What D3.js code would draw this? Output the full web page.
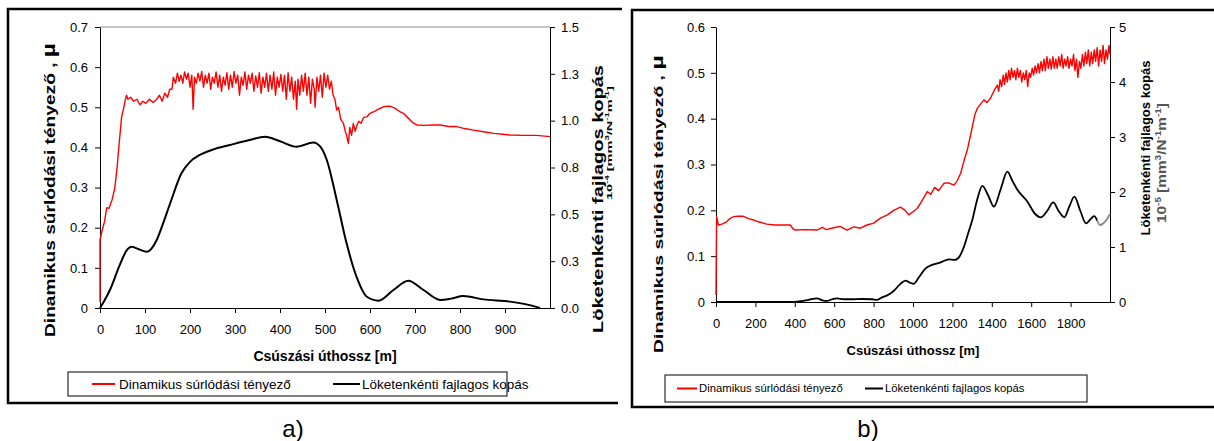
<!DOCTYPE html>
<html>
<head>
<meta charset="utf-8">
<script src="https://cdn.jsdelivr.net/npm/d3@7"></script>
<style>
  body { margin: 0; background: #fff; }
  svg { font-family: Arial, "Liberation Sans", sans-serif; }
  .axis path, .axis line { stroke: #000; }
  .axis text { fill: #000; }
</style>
</head>
<body>
<svg id="chart" width="1214" height="441"></svg>
<script>
// ---- data ----
const xTicksA = [0, 100, 200, 300, 400, 500, 600, 700, 800, 900];
const yLeftTicksA = [0, 0.1, 0.2, 0.3, 0.4, 0.5, 0.6, 0.7];
const yRightTicksA = [0, 0.25, 0.5, 0.75, 1, 1.25, 1.5];

const xTicksB = [0, 200, 400, 600, 800, 1000, 1200, 1400, 1600, 1800];
const yLeftTicksB = [0, 0.1, 0.2, 0.3, 0.4, 0.5, 0.6];
const yRightTicksB = [0, 1, 2, 3, 4, 5];

const seriesNames = ['Dinamikus súrlódási tényező', 'Löketenkénti fajlagos kopás'];
const xTitle = 'Csúszási úthossz [m]';
const yLeftTitle = 'Dinamikus súrlódási tényező , ';
const yRightTitle = 'Löketenkénti fajlagos kopás';

// [distance m, friction coefficient]
const frictionA = [
  [0,0.016],[0,0.17],[4,0.19],[10,0.215],[15,0.25],[20,0.248],[27,0.27],[33,0.30],[38,0.35],[41,0.39],
  [48,0.476],[53,0.50],[56,0.518],[59,0.53],[62,0.52],[68,0.525],[75,0.515],[82,0.52],[89,0.506],[95,0.515],
  [102,0.51],[110,0.52],[118,0.512],[126,0.52],[132,0.53],[138,0.515],[144,0.535],[150,0.525],[155,0.545],
  [160,0.545],[163,0.575],[168,0.56],[172,0.585],[176,0.565],[180,0.58],[184,0.56],[188,0.588],[192,0.57],
  [196,0.585],[200,0.55],[204,0.58],[207,0.495],[210,0.575],[214,0.56],[218,0.585],[222,0.565],[226,0.589],
  [230,0.55],[234,0.58],[238,0.56],[242,0.585],[246,0.545],[250,0.575],[254,0.56],[258,0.588],[262,0.55],
  [266,0.58],[270,0.54],[274,0.575],[278,0.555],[282,0.586],[286,0.545],[290,0.58],[294,0.55],[298,0.589],
  [302,0.56],[306,0.58],[310,0.53],[314,0.575],[318,0.555],[322,0.588],[326,0.545],[330,0.58],[334,0.56],
  [338,0.585],[342,0.54],[346,0.578],[350,0.55],[354,0.586],[358,0.535],[362,0.575],[366,0.55],[370,0.585],
  [374,0.54],[378,0.58],[382,0.545],[386,0.588],[390,0.53],[394,0.575],[398,0.55],[402,0.582],[406,0.54],
  [410,0.58],[414,0.52],[418,0.586],[422,0.54],[426,0.575],[430,0.52],[434,0.565],[437,0.495],[440,0.57],
  [444,0.53],[448,0.58],[452,0.54],[456,0.585],[460,0.53],[464,0.575],[468,0.51],[472,0.57],[476,0.545],
  [478,0.50],[482,0.575],[486,0.54],[490,0.58],[494,0.525],[498,0.585],[502,0.55],[506,0.58],[510,0.545],
  [514,0.565],[518,0.53],[522,0.52],[526,0.493],[530,0.50],[535,0.47],[541,0.46],[545,0.44],[548,0.43],
  [552,0.41],[555,0.45],[559,0.43],[563,0.46],[567,0.44],[570,0.452],[575,0.465],[580,0.46],[586,0.475],
  [593,0.476],[600,0.485],[610,0.49],[622,0.497],[632,0.502],[644,0.503],[655,0.498],[665,0.49],[674,0.485],
  [685,0.473],[695,0.462],[704,0.456],[720,0.455],[740,0.456],[756,0.456],[775,0.452],[793,0.452],
  [810,0.447],[830,0.443],[852,0.439],[875,0.435],[895,0.433],[911,0.431],[940,0.43],[970,0.43],[1000,0.427]
];

// [distance m, wear 10^-4 mm3/(N m)]
const wearA = [
  [0,0],[10,0.04],[22,0.096],[44,0.23],[60,0.31],[70,0.327],[85,0.315],[104,0.30],[126,0.363],[140,0.45],
  [156,0.559],[181,0.719],[200,0.78],[222,0.817],[250,0.845],[289,0.87],[330,0.895],[367,0.914],[400,0.89],
  [437,0.861],[474,0.883],[490,0.86],[504,0.79],[526,0.577],[548,0.345],[570,0.167],[593,0.06],[619,0.039],
  [652,0.096],[685,0.146],[719,0.096],[756,0.043],[780,0.05],[807,0.064],[852,0.046],[911,0.034],[950,0.018],[978,0]
];

const frictionB = [
  [0,0.015],[3,0.186],[12,0.168],[30,0.17],[54,0.175],[70,0.182],[88,0.186],[110,0.187],[139,0.187],
  [165,0.182],[190,0.179],[215,0.175],[258,0.17],[300,0.168],[377,0.168],[390,0.16],[402,0.157],[450,0.158],
  [512,0.157],[540,0.163],[560,0.158],[597,0.162],[630,0.165],[665,0.157],[700,0.164],[733,0.161],[767,0.168],
  [800,0.172],[835,0.183],[870,0.19],[902,0.20],[936,0.207],[960,0.20],[979,0.19],[1000,0.197],[1021,0.204],
  [1045,0.22],[1072,0.241],[1090,0.235],[1110,0.25],[1130,0.243],[1157,0.259],[1180,0.26],[1208,0.255],
  [1225,0.265],[1242,0.281],[1260,0.31],[1276,0.332],[1290,0.36],[1301,0.382],[1315,0.41],[1327,0.423],
  [1340,0.43],[1360,0.441],[1375,0.435],[1394,0.445],[1410,0.46],[1428,0.473],[1435,0.46],[1442,0.485],
  [1450,0.47],[1458,0.495],[1465,0.475],[1472,0.50],[1479,0.48],[1486,0.505],[1493,0.485],[1500,0.51],
  [1508,0.49],[1515,0.505],[1522,0.485],[1530,0.51],[1537,0.49],[1545,0.505],[1552,0.48],[1560,0.50],
  [1567,0.485],[1575,0.505],[1582,0.47],[1590,0.50],[1597,0.49],[1605,0.51],[1612,0.495],[1620,0.515],
  [1627,0.50],[1635,0.52],[1642,0.50],[1650,0.525],[1657,0.505],[1665,0.53],[1672,0.505],[1680,0.535],
  [1687,0.51],[1695,0.53],[1702,0.508],[1710,0.535],[1717,0.51],[1725,0.53],[1732,0.51],[1740,0.535],
  [1747,0.515],[1755,0.54],[1762,0.51],[1770,0.53],[1777,0.515],[1785,0.535],[1792,0.51],[1800,0.53],
  [1807,0.515],[1815,0.54],[1822,0.505],[1830,0.53],[1837,0.49],[1845,0.525],[1852,0.51],[1860,0.54],
  [1867,0.515],[1875,0.545],[1882,0.52],[1890,0.55],[1897,0.515],[1905,0.545],[1912,0.52],[1920,0.55],
  [1927,0.525],[1935,0.555],[1942,0.515],[1950,0.55],[1957,0.525],[1965,0.56],[1972,0.52],[1980,0.55],
  [1987,0.53],[1995,0.56],[2000,0.54]
];

// [distance m, wear 10^-5 mm3/(N m)]
const wearB = [
  [0,0],[377,0],[420,0.01],[470,0.04],[512,0.067],[540,0.03],[563,0.02],[590,0.05],[614,0.067],[650,0.05],
  [697,0.05],[740,0.055],[792,0.05],[818,0.04],[845,0.09],[869,0.12],[902,0.2],[936,0.33],[962,0.39],
  [985,0.35],[1004,0.33],[1030,0.45],[1064,0.61],[1100,0.68],[1140,0.72],[1182,0.776],[1210,0.765],
  [1230,0.8],[1259,1.006],[1280,1.25],[1301,1.49],[1325,1.85],[1352,2.11],[1380,1.95],[1411,1.733],
  [1445,2.05],[1479,2.37],[1505,2.2],[1530,2.04],[1581,1.824],[1620,1.6],[1649,1.54],[1680,1.65],
  [1712,1.81],[1740,1.65],[1768,1.54],[1795,1.75],[1819,1.915],[1850,1.65],[1878,1.43],[1900,1.5],
  [1920,1.56],[1935,1.48]
];
// faded end piece of the wear curve
const wearBTail = [[1935,1.48],[1950,1.40],[1975,1.46],[2000,1.6]];

// ---- drawing ----
const svg = d3.select('#chart');
const FONT = 'Arial, "Liberation Sans", sans-serif';

const panels = [
  {
    label: 'a)', labelX: 293,
    friction: frictionA, wear: wearA, tail: null,
    xDomain: [0, 1000], yLeft: [0, 0.7], yRight: [0, 1.5],
    xTicks: xTicksA, yLeftTicks: yLeftTicksA, yRightTicks: yRightTicksA,
    yLeftFmt: d => d === 0 ? '0' : d3.format('.1f')(d),
    yRightFmt: d3.format('.1f'),
    plot: {left: 100, right: 550, top: 27, bottom: 308},
    frame: {left: 8, top: 9, bottom: 403, topEnd: 622, bottomEnd: 618},
    topLine: true,
    padL: 7, padR: 6,
    xTitleY: 361, xTitleSize: 14,
    yTitle: {x: 55, y: 190, len: 294, size: 14},
    rTitle: {x: 603, y: 199, len: 268, size: 14},
    rUnit: {x: 612, y: 143, len: 114, size: 8, exp: '-4', color: '#000'},
    legend: {x0: 68, y0: 372, x1: 507, y1: 396, size: 13.5,
      items: [{x: 92, w: 23, tx: 119}, {x: 333, w: 27, tx: 362}]},
    wearWidth: 2
  },
  {
    label: 'b)', labelX: 868,
    friction: frictionB, wear: wearB, tail: wearBTail,
    xDomain: [0, 2000], yLeft: [0, 0.6], yRight: [0, 5],
    xTicks: xTicksB, yLeftTicks: yLeftTicksB, yRightTicks: yRightTicksB,
    yLeftFmt: d => d === 0 ? '0' : d3.format('.1f')(d),
    yRightFmt: d3.format('d'),
    plot: {left: 716, right: 1110, top: 27, bottom: 302},
    frame: {left: 632, top: 10, bottom: 407, topEnd: 1214, bottomEnd: 1214},
    topLine: false,
    padL: 6, padR: 4,
    xTitleY: 355, xTitleSize: 13,
    yTitle: {x: 663, y: 204, len: 298, size: 13},
    rTitle: {x: 1150, y: 148, len: 175, size: 13},
    rUnit: {x: 1166, y: 163, len: 120, size: 13, exp: '-5', color: '#555'},
    legend: {x0: 665, y0: 375, x1: 1087, y1: 402, size: 11.3,
      items: [{x: 677, w: 20, tx: 699}, {x: 865, w: 18, tx: 885}]},
    wearWidth: 1.8
  }
];

const drawPanel = function(p) {
  const g = svg.append('g');
  const pl = p.plot;

  const x = d3.scaleLinear().domain(p.xDomain).range([pl.left, pl.right]);
  const yL = d3.scaleLinear().domain(p.yLeft).range([pl.bottom, pl.top]);
  const yR = d3.scaleLinear().domain(p.yRight).range([pl.bottom, pl.top]);

  // outer frame (left, top, bottom edges only, like the cropped source)
  const fr = p.frame;
  g.append('path')
    .attr('d', `M${fr.topEnd},${fr.top}H${fr.left}V${fr.bottom}H${fr.bottomEnd}`)
    .attr('fill', 'none').attr('stroke', '#000').attr('stroke-width', 2.5);

  if (p.topLine) {
    g.append('line')
      .attr('x1', pl.left).attr('x2', pl.right)
      .attr('y1', pl.top).attr('y2', pl.top)
      .attr('stroke', '#8c8c8c').attr('stroke-width', 1);
  }

  // axes
  const xAxis = d3.axisBottom(x).tickValues(p.xTicks).tickSize(5).tickSizeOuter(0)
    .tickPadding(12).tickFormat(d3.format('d'));
  g.append('g').attr('class', 'axis')
    .attr('transform', `translate(0,${pl.bottom})`).call(xAxis);

  const yAxisL = d3.axisLeft(yL).tickValues(p.yLeftTicks).tickSize(5).tickSizeOuter(0)
    .tickPadding(p.padL).tickFormat(p.yLeftFmt);
  g.append('g').attr('class', 'axis')
    .attr('transform', `translate(${pl.left},0)`).call(yAxisL);

  const yAxisR = d3.axisRight(yR).tickValues(p.yRightTicks).tickSize(5).tickSizeOuter(0)
    .tickPadding(p.padR).tickFormat(p.yRightFmt);
  g.append('g').attr('class', 'axis')
    .attr('transform', `translate(${pl.right},0)`).call(yAxisR);

  g.selectAll('.axis').attr('font-family', FONT).attr('font-size', 13);

  // series
  const frictionLine = d3.line().x(d => x(d[0])).y(d => yL(d[1]));
  const wearLine = d3.line().x(d => x(d[0])).y(d => yR(d[1])).curve(d3.curveMonotoneX);

  g.append('path').datum(p.wear)
    .attr('d', wearLine).attr('fill', 'none')
    .attr('stroke', '#000').attr('stroke-width', p.wearWidth);

  if (p.tail) {
    g.append('path').datum(p.tail)
      .attr('d', wearLine).attr('fill', 'none')
      .attr('stroke', '#8a8a8a').attr('stroke-width', p.wearWidth);
  }

  g.append('path').datum(p.friction)
    .attr('d', frictionLine).attr('fill', 'none')
    .attr('stroke', '#ff0000').attr('stroke-width', 1.4)
    .attr('stroke-linejoin', 'round');

  // axis titles
  g.append('text')
    .attr('x', (pl.left + pl.right) / 2 + (p.label === 'a)' ? 0 : -0))
    .attr('y', p.xTitleY)
    .attr('text-anchor', 'middle')
    .attr('font-weight', 'bold').attr('font-size', p.xTitleSize)
    .text(xTitle);

  const yt = g.append('text')
    .attr('transform', `translate(${p.yTitle.x},${p.yTitle.y}) rotate(-90)`)
    .attr('text-anchor', 'middle')
    .attr('font-weight', 'bold').attr('font-size', p.yTitle.size)
    .attr('textLength', p.yTitle.len).attr('lengthAdjust', 'spacingAndGlyphs');
  yt.append('tspan').text(yLeftTitle);
  yt.append('tspan').attr('font-size', p.yTitle.size + 4).text('µ');

  g.append('text')
    .attr('transform', `translate(${p.rTitle.x},${p.rTitle.y}) rotate(-90)`)
    .attr('text-anchor', 'middle')
    .attr('font-weight', 'bold').attr('font-size', p.rTitle.size)
    .attr('textLength', p.rTitle.len).attr('lengthAdjust', 'spacingAndGlyphs')
    .text(yRightTitle);

  const ru = p.rUnit;
  const ut = g.append('text')
    .attr('transform', `translate(${ru.x},${ru.y}) rotate(-90)`)
    .attr('text-anchor', 'middle')
    .attr('font-weight', 'bold').attr('font-size', ru.size)
    .attr('fill', ru.color)
    .attr('textLength', ru.len).attr('lengthAdjust', 'spacingAndGlyphs');
  const parts = [['10', false], [ru.exp, true], [' [mm', false], ['3', true], ['/N', false],
    ['-1', true], ['m', false], ['-1', true], [']', false]];
  parts.forEach(([t, sup]) => {
    const ts = ut.append('tspan').text(t);
    if (sup) ts.attr('baseline-shift', 'super').attr('font-size', ru.size * 0.65);
  });

  // legend
  const lg = p.legend;
  g.append('rect')
    .attr('x', lg.x0).attr('y', lg.y0)
    .attr('width', lg.x1 - lg.x0).attr('height', lg.y1 - lg.y0)
    .attr('fill', '#fff').attr('stroke', '#000').attr('stroke-width', 1);
  const ly = (lg.y0 + lg.y1) / 2;
  const colors = ['#ff0000', '#000'];
  lg.items.forEach((it, i) => {
    g.append('line')
      .attr('x1', it.x).attr('x2', it.x + it.w)
      .attr('y1', ly).attr('y2', ly)
      .attr('stroke', colors[i]).attr('stroke-width', 2);
    g.append('text')
      .attr('x', it.tx).attr('y', ly).attr('dy', '0.35em')
      .attr('font-size', lg.size)
      .text(seriesNames[i]);
  });

  // panel label
  g.append('text')
    .attr('x', p.labelX).attr('y', 437)
    .attr('text-anchor', 'middle').attr('font-size', 24)
    .text(p.label);
};

panels.forEach(drawPanel);
</script>
</body>
</html>
